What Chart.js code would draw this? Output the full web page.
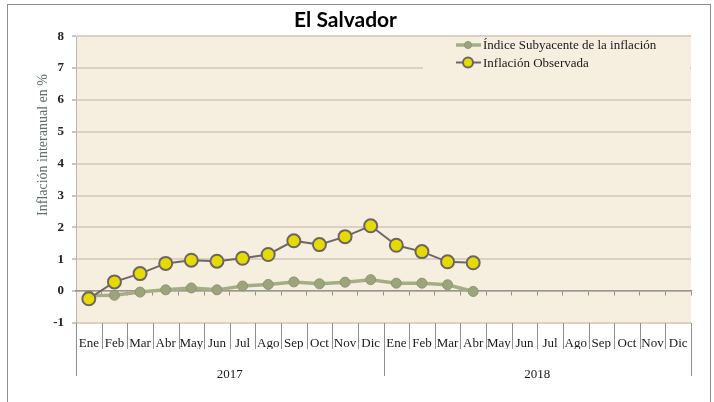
<!DOCTYPE html>
<html>
<head>
<meta charset="utf-8">
<script src="https://cdn.jsdelivr.net/npm/chart.js@4.4.1/dist/chart.umd.min.js"></script>
<style>
  body { margin: 0; background: #fff; }
  #wrap { position: relative; width: 714px; height: 402px; overflow: hidden; }
  #frame { position: absolute; left: 7px; top: 4px; width: 702px; height: 420px; border: 1px solid #8e8e8e; }
  #myChart { position: absolute; left: 0; top: 0; }
</style>
</head>
<body>
<div id="wrap">
  <div id="frame"></div>
  <canvas id="myChart" width="714" height="402"></canvas>
</div>
<script>
var meses = ['Ene','Feb','Mar','Abr','May','Jun','Jul','Ago','Sep','Oct','Nov','Dic',
             'Ene','Feb','Mar','Abr','May','Jun','Jul','Ago','Sep','Oct','Nov','Dic'];
var anios = ['2017', '2018'];
var subyacente = [-0.14, -0.13, -0.03, 0.04, 0.10, 0.04, 0.16, 0.21, 0.29, 0.23, 0.28, 0.36,
                  0.25, 0.25, 0.20, -0.01, null, null, null, null, null, null, null, null];
var observada = [-0.24, 0.29, 0.55, 0.87, 0.97, 0.94, 1.03, 1.15, 1.58, 1.46, 1.71, 2.05,
                 1.44, 1.24, 0.92, 0.89, null, null, null, null, null, null, null, null];

var serif = '"Liberation Serif", serif';

// fondo del area de grafico, separadores del eje, titulo y leyenda
var decor = {
    id: 'decor',
    beforeDraw: function(chart) {
        var c = chart.ctx, a = chart.chartArea;
        c.save();
        c.fillStyle = '#f6eedf';
        c.fillRect(a.left, a.top, a.right - a.left, a.bottom - a.top);
        c.restore();
    },
    afterDatasetsDraw: function(chart) {
        var c = chart.ctx, a = chart.chartArea, x = chart.scales.x;
        var n = meses.length;
        var w = (x.getPixelForValue(1) - x.getPixelForValue(0));
        c.save();
        c.strokeStyle = '#8f8f8f';
        c.lineWidth = 1;
        for (var i = 0; i <= n; i++) {
            var px = Math.round(x.getPixelForValue(0) - w / 2 + i * w) + 0.5;
            var bottom = (i % 12 === 0) ? a.bottom + 53 : a.bottom + 26;
            c.beginPath();
            c.moveTo(px, a.bottom);
            c.lineTo(px, bottom);
            c.stroke();
        }
        // titulo del eje y
        c.translate(43, 145);
        c.rotate(-Math.PI / 2);
        c.fillStyle = '#5d6e6c';
        c.font = '14px ' + serif;
        c.textAlign = 'center';
        c.textBaseline = 'middle';
        c.fillText('Inflación interanual en %', 0, 0);
        c.restore();

        // leyenda
        c.save();
        c.fillStyle = '#f6eedf';
        c.fillRect(423, a.top + 1, a.right - 424, 39);
        var ds = chart.data.datasets;
        var items = [ds[1], ds[0]];
        items.forEach(function(d, k) {
            var y = 45 + k * 17.5;
            c.strokeStyle = d.borderColor;
            c.lineWidth = d.borderWidth;
            c.beginPath();
            c.moveTo(456, y);
            c.lineTo(481, y);
            c.stroke();
            c.beginPath();
            c.arc(468, y, d.pointRadius - 1.5, 0, Math.PI * 2);
            c.fillStyle = d.pointBackgroundColor;
            c.fill();
            c.lineWidth = d.pointBorderWidth;
            c.strokeStyle = d.pointBorderColor;
            c.stroke();
            c.fillStyle = '#1a1a1a';
            c.font = '13px ' + serif;
            c.textBaseline = 'middle';
            c.fillText(d.label, 483, y + 1);
        });
        c.restore();
    }
};

var ctx = document.getElementById('myChart').getContext('2d');

var chart = new Chart(ctx, {
    type: 'line',
    data: {
        labels: meses,
        datasets: [{
            label: 'Inflación Observada',
            data: observada,
            borderColor: '#6f6767',
            borderWidth: 2,
            pointRadius: 6.5,
            pointBackgroundColor: '#e6db00',
            pointBorderColor: '#6e6464',
            pointBorderWidth: 2,
            order: 0
        }, {
            label: 'Índice Subyacente de la inflación',
            data: subyacente,
            borderColor: '#a4ae84',
            borderWidth: 3.5,
            pointRadius: 5,
            pointBackgroundColor: '#9ca47c',
            pointBorderColor: '#8d9572',
            pointBorderWidth: 1,
            order: 1
        }]
    },
    options: {
        responsive: false,
        animation: false,
        layout: { padding: { left: 0, right: 23, top: 0, bottom: 0 } },
        plugins: {
            legend: { display: false },
            tooltip: { enabled: false },
            title: {
                display: true,
                text: 'El Salvador',
                color: '#000',
                font: { family: 'Lato', size: 21, weight: 'bold' },
                padding: { top: 8, bottom: 3 }
            }
        },
        scales: {
            y: {
                min: -1,
                max: 8,
                ticks: { stepSize: 1, color: '#222', padding: 8, font: { family: serif, size: 13, weight: '600' } },
                grid: { color: '#ddd0c3', lineWidth: 2, tickLength: 4, tickColor: '#8f8f8f', tickWidth: 1 },
                border: { color: '#bdb6ae', width: 1 },
                afterFit: function(s) { s.width = 76; }
            },
            x: {
                weight: 0,
                offset: true,
                ticks: { color: '#1a1a1a', padding: 5, autoSkip: false, maxRotation: 0, font: { family: serif, size: 13 } },
                grid: { display: false },
                border: { display: false },
                afterFit: function(s) { s.height = 26; }
            },
            xAnio: {
                type: 'category',
                labels: anios,
                position: 'bottom',
                weight: 1,
                offset: true,
                ticks: { color: '#1a1a1a', padding: 10, font: { family: serif, size: 13 } },
                grid: { display: false },
                border: { display: false },
                afterFit: function(s) { s.height = 53; }
            },
            x0: {
                type: 'category',
                labels: meses,
                position: { y: 0 },
                offset: true,
                ticks: { display: false },
                grid: { offset: true, drawOnChartArea: false, tickLength: 4, color: '#8f8f8f' },
                border: { color: '#9a9490', width: 1.5 }
            }
        }
    },
    plugins: [decor]
});
</script>
</body>
</html>
